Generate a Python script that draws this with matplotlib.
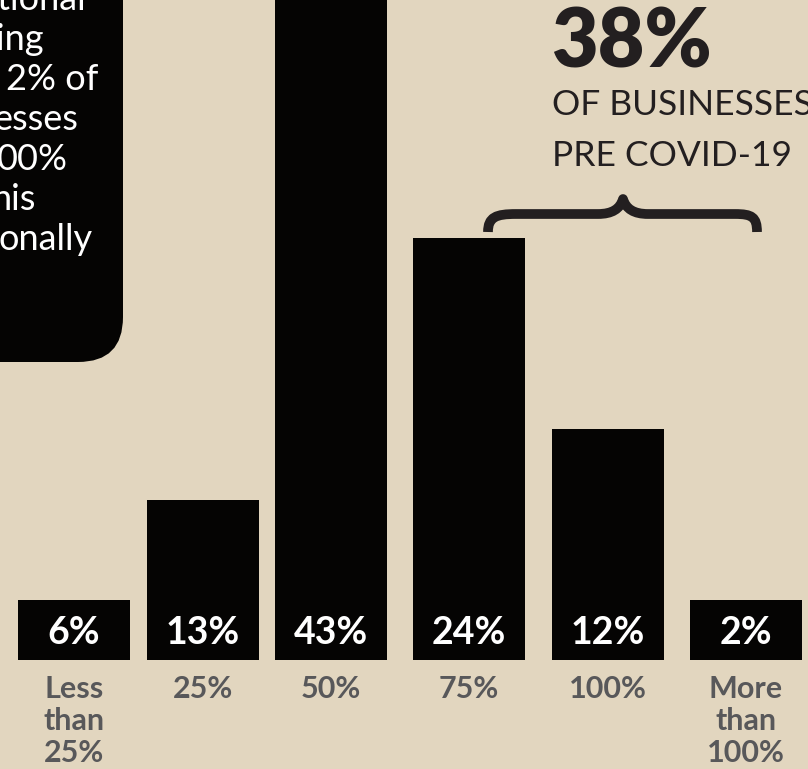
import numpy as np
import matplotlib.pyplot as plt
from matplotlib.patches import FancyBboxPatch, PathPatch
from matplotlib.path import Path

# categories / values shown on the infographic
categories = ['Less\nthan\n25%', '25%', '50%', '75%', '100%', 'More\nthan\n100%']
shares = [6, 13, 43, 24, 12, 2]
# the infographic is not drawn to scale, so these are the drawn heights read off the picture
bar_heights = [3.4, 9.1, 43, 24.0, 13.1, 3.4]

# cropped text fragments of the side note (left part is cut off in the picture)
note_lines = ['utional', 'ing', '2% of', 'esses', '00%', 'his', 'onally']
note_right = [86, 44, 98, 78, 68, 36, 93]

callout_big = '38%'
callout_lines = ['OF BUSINESSES', 'PRE COVID-19']

bg = '#e2d6bf'
ink = '#050403'
dark = '#231f20'
grey = '#58585a'

W, H = 808, 769
fig = plt.figure(figsize=(W / 100, H / 100), dpi=100)
fig.patch.set_facecolor(bg)

# bar axes: baseline sits 109 px above the bottom edge
k = 17.6  # px per unit
ax = fig.add_axes([0, 0, 1, 1])
ax.set_facecolor(bg)
ax.set_xlim(0, W)
ax.set_ylim(-109 / k, 660 / k)
ax.axis('off')

idx = np.arange(len(shares))
# the right-hand group sits a little further apart than the left one
xpos = np.where(idx < 3, 74 + 128.5 * idx, 469 + 138.5 * (idx - 3))
ax.bar(xpos, bar_heights, width=112, color=ink, zorder=2)

# overlay in pixel coordinates (y down) for text and decorations
ov = fig.add_axes([0, 0, 1, 1])
ov.set_xlim(0, W)
ov.set_ylim(H, 0)
ov.axis('off')
ov.patch.set_alpha(0)

for x, s, cat in zip(xpos, shares, categories):
    ov.text(x, 633, f'{s}%', color='white', fontsize=27, fontweight='bold',
            family='Lato', ha='center', va='center')
    for j, line in enumerate(cat.split('\n')):
        ov.text(x, 698 + 32 * j, line, color=grey, fontsize=22, fontweight='bold',
                family='Lato', ha='center', va='baseline')

# black note box with rounded bottom-right corner
box = FancyBboxPatch((-200, -200), 323, 562, boxstyle='round,pad=0,rounding_size=45',
                     facecolor=ink, edgecolor='none', zorder=3)
ov.add_patch(box)
for j, (line, xr) in enumerate(zip(note_lines, note_right)):
    ov.text(xr, 10 + 40 * j, line, color='white', fontsize=26, family='Lato',
            ha='right', va='baseline', zorder=4)

# callout
ov.text(551, 68, callout_big, color=dark, fontsize=58, fontweight='heavy',
        family='Lato', ha='left', va='baseline')
for j, line in enumerate(callout_lines):
    ov.text(552, 115 + 51 * j, line, color=dark, fontsize=25.5, fontweight='normal',
            family='Lato', ha='left', va='baseline')

# curly brace over the 75% and 100% bars
verts = [(488, 232), (488, 217), (496, 214), (516, 214), (598, 214),
         (612, 214), (620, 209), (623, 199),
         (626, 209), (634, 214), (648, 214), (735, 214),
         (752, 214), (757, 217), (757, 232)]
codes = [Path.MOVETO, Path.CURVE4, Path.CURVE4, Path.CURVE4, Path.LINETO,
         Path.CURVE4, Path.CURVE4, Path.CURVE4,
         Path.CURVE4, Path.CURVE4, Path.CURVE4, Path.LINETO,
         Path.CURVE4, Path.CURVE4, Path.CURVE4]
ov.add_patch(PathPatch(Path(verts, codes), facecolor='none', edgecolor=dark,
                       lw=7, capstyle='butt', joinstyle='round'))

fig.savefig('out.png', dpi=100, facecolor=bg)
